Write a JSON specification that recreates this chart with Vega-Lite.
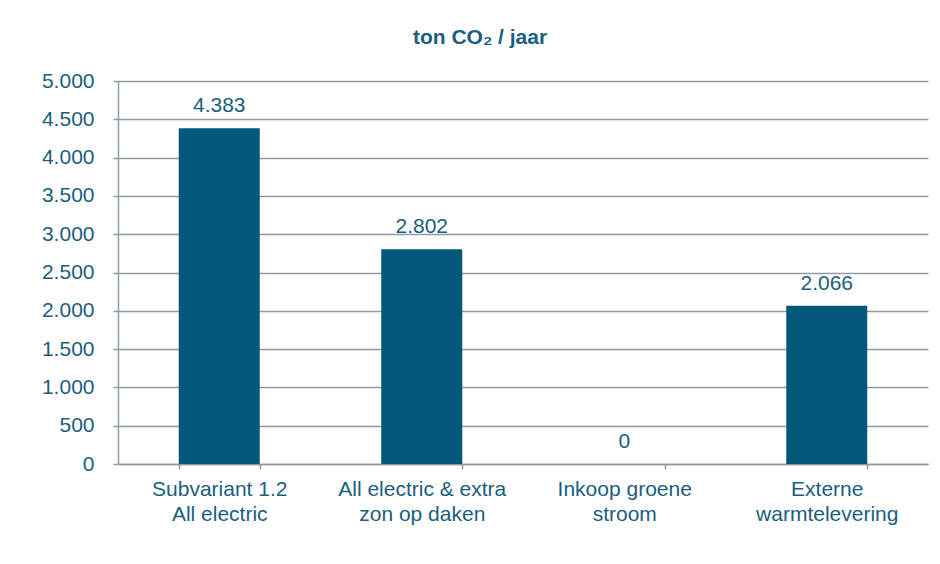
{
  "$schema": "https://vega.github.io/schema/vega-lite/v6.json",
  "width": 810,
  "height": 383,
  "autosize": {"type": "none"},
  "padding": {"left": 118, "top": 81, "right": 12, "bottom": 100},
  "background": "white",
  "config": {
    "locale": {"number": {"decimal": ",", "thousands": ".", "grouping": [3], "currency": ["€", ""]}},
    "view": {"stroke": null},
    "font": "Liberation Sans"
  },
  "title": {
    "text": "ton CO₂ / jaar",
    "font": "Liberation Sans",
    "fontSize": 21,
    "fontWeight": "bold",
    "color": "#1B5E7E",
    "anchor": "middle",
    "dx": -43,
    "offset": 22
  },
  "data": {
    "values": [
      {"variant": "Subvariant 1.2|All electric", "ton": 4383},
      {"variant": "All electric & extra|zon op daken", "ton": 2802},
      {"variant": "Inkoop groene|stroom", "ton": 0},
      {"variant": "Externe|warmtelevering", "ton": 2066}
    ]
  },
  "encoding": {
    "x": {
      "field": "variant",
      "type": "nominal",
      "sort": null,
      "scale": {"paddingInner": 0.6, "paddingOuter": 0.3},
      "axis": {
        "title": null,
        "labelAngle": 0,
        "labelExpr": "split(datum.label, '|')",
        "labelFont": "Liberation Sans",
        "labelFontSize": 21,
        "labelColor": "#1B5E7E",
        "labelLineHeight": 25,
        "labelPadding": 9,
        "labelBaseline": "top",
        "domainColor": "#8D9BAA",
        "domainWidth": 1.5,
        "tickColor": "#8D9BAA",
        "tickWidth": 1.5,
        "tickSize": 5,
        "tickBand": "extent",
        "grid": false
      }
    },
    "y": {
      "field": "ton",
      "type": "quantitative",
      "scale": {"domain": [0, 5000], "nice": false},
      "axis": {
        "title": null,
        "values": [0, 500, 1000, 1500, 2000, 2500, 3000, 3500, 4000, 4500, 5000],
        "format": ",d",
        "labelFont": "Liberation Sans",
        "labelFontSize": 21,
        "labelColor": "#1B5E7E",
        "labelPadding": 19,
        "domainColor": "#8D9BAA",
        "domainWidth": 1.5,
        "tickColor": "#8D9BAA",
        "tickWidth": 1.5,
        "tickSize": 5,
        "grid": true,
        "gridColor": "#8D9BAA",
        "gridWidth": 1.5
      }
    }
  },
  "layer": [
    {"mark": {"type": "bar", "color": "#02587B"}},
    {
      "mark": {"type": "text", "baseline": "alphabetic", "dy": -16, "fontSize": 21, "color": "#1B5E7E", "font": "Liberation Sans"},
      "encoding": {"text": {"field": "ton", "type": "quantitative", "format": ",d"}}
    }
  ]
}
